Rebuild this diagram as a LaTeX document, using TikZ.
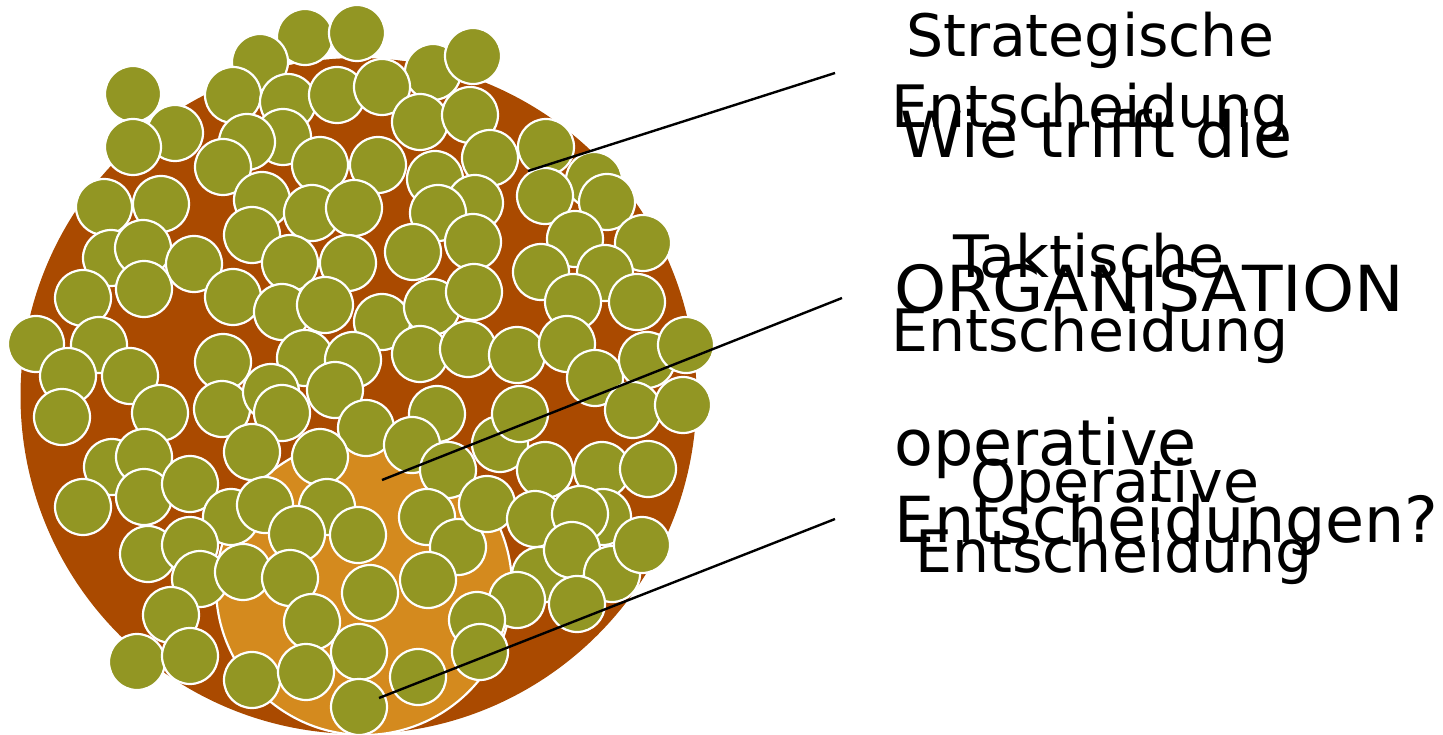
\documentclass[tikz,border=0pt]{standalone}
\usepackage{fontspec}
\setmainfont{DejaVu Sans}
\definecolor{brownc}{RGB}{170,74,0}
\definecolor{orangec}{RGB}{212,138,30}
\definecolor{olivec}{RGB}{146,150,35}
\begin{document}
\begin{tikzpicture}[x=1pt,y=-1pt,
  cell/.style={circle, fill=olivec, draw=white, line width=2.2pt, minimum size=56pt, inner sep=0pt},
  lbl/.style={font=\fontsize{58.5}{58.5}\selectfont, inner sep=0pt, anchor=base},
  qst/.style={font=\fontsize{63.5}{63.5}\selectfont, inner sep=0pt, anchor=base west},
  pointer/.style={draw=black, line width=2.4pt}]
\useasboundingbox (0,0) rectangle (1443,735);
\node[circle, fill=brownc, minimum size=676pt, inner sep=0pt] (outer) at (358.5,396) {};
\node[circle, fill=orangec, draw=white, line width=2.2pt, minimum size=296pt, inner sep=0pt] (inner) at (364,587) {};
\foreach \px/\py [count=\i] in {
 133/94, 305/37, 357/33, 260/62, 433/72, 473/56, 233/95, 288/102, 337/95, 382/87, 420/122, 470/115,
 175/133, 133/147, 283/137, 247/142, 223/167, 320/165, 378/165, 490/158, 546/147, 435/179,
 594/180, 607/202, 545/196, 104/207, 161/204, 262/200, 312/213, 354/208, 475/203, 438/213,
 111/258, 143/248, 194/264, 252/235, 290/263, 348/263, 413/252, 473/242, 575/239, 643/243, 605/273, 541/272,
 83/298, 144/289, 233/297, 282/312, 325/305, 382/322, 432/307, 474/292, 573/302, 637/302,
 36/344, 99/345, 68/376, 130/376, 223/362, 305/358, 353/360, 420/354, 468/349, 517/355, 567/344, 595/378, 647/360, 686/345,
 62/417, 160/413, 222/409, 271/392, 282/413, 335/390, 366/428, 437/414, 412/445, 500/444, 520/414, 633/410, 683/405,
 112/467, 144/457, 252/452, 320/457, 448/470, 545/470, 602/470, 648/469,
 83/507, 144/497, 190/484, 231/517, 265/505, 327/507, 297/534, 358/535, 427/517, 458/547, 487/504, 535/519, 603/517, 580/514,
 148/554, 190/545, 200/579, 243/572, 290/578, 370/593, 428/580, 540/575, 517/600, 572/550, 612/574, 642/545,
 171/615, 312/622, 477/620, 577/604, 137/662, 190/656, 252/680, 306/672, 359/652, 359/707, 418/677, 480/652}
  \node[cell] (c\i) at (\px,\py) {};
\coordinate (s1) at (528,171); \coordinate (e1) at (835,73);
\coordinate (s2) at (382,480); \coordinate (e2) at (842,298);
\coordinate (s3) at (379,698); \coordinate (e3) at (835,519);
\draw[pointer] (s1) -- (e1);
\draw[pointer] (s2) -- (e2);
\draw[pointer] (s3) -- (e3);
\node[lbl] (strat1) at (1090,57) {Strategische};
\node[lbl] (strat2) at (1090,128) {Entscheidung};
\node[lbl] (takt1) at (1089,278) {Taktische};
\node[lbl] (takt2) at (1090,352) {Entscheidung};
\node[lbl] (oper1) at (1115,502) {Operative};
\node[lbl] (oper2) at (1114,572) {Entscheidung};
\node[qst] (q1) at (900,158) {Wie trifft die};
\node[qst] (q2) at (894,312) {\scalebox{1.045}[1]{ORGANISATION}};
\node[qst] (q3) at (894,465) {operative};
\node[qst] (q4) at (894,542) {Entscheidungen?};
\end{tikzpicture}
\end{document}
